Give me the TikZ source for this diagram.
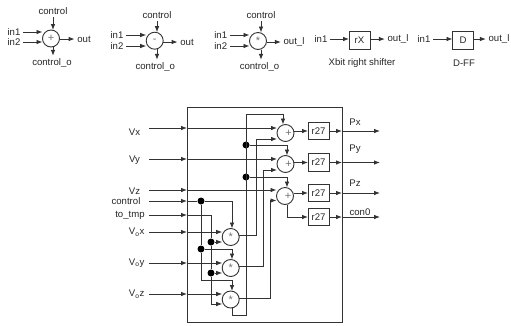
\documentclass[tikz,border=0pt]{standalone}
\usepackage{fontspec}
\setmainfont{Liberation Sans}
\usetikzlibrary{arrows.meta,calc}

\begin{document}
\begin{tikzpicture}[
    x=1pt,y=-1pt,
    every node/.style={text=black!85},
    lbl/.style={font=\fontsize{9.6}{10}\selectfont,inner sep=2.5pt},
    unit/.style={circle,draw=black!80,line width=0.9pt,minimum size=17pt,inner sep=0,outer sep=0,text=black!55,font=\fontsize{11}{11}\selectfont},
    box/.style={rectangle,draw=black!80,line width=0.9pt,minimum width=21pt,minimum height=17.5pt,inner sep=0,outer sep=0,font=\fontsize{9.6}{10}\selectfont},
    dot/.style={circle,fill=black,inner sep=0,minimum size=7pt},
    wire/.style={draw=black!80,line width=0.9pt},
    arrow/.style={wire,-{Latex[length=6pt,width=4.6pt]}}
]
\useasboundingbox (0,0) rectangle (511,325);

% Legend: adder
\node[unit] (adda) at (51,38.5) {+};
\node[lbl] (in1a) at (14,32) {in1};
\node[lbl] (in2a) at (14,42) {in2};
\node[lbl] (ctla) at (53,11) {control};
\node[lbl] (coa) at (52,63) {control\_o};
\node[lbl] (outa) at (84,39) {out};
\draw[arrow] (in1a.east) -- (in1a.east -| adda.west);
\draw[arrow] (in2a.east) -- (in2a.east -| adda.west);
\draw[arrow] (ctla.south) -- (ctla.south |- adda.north);
\draw[arrow] (ctla |- adda.south) -- (ctla |- coa.north);
\draw[arrow] (adda.east |- outa.west) -- (outa.west);

% Legend: subtractor
\node[unit] (addb) at (154.7,40.7) {-};
\node[lbl] (in1b) at (117,35) {in1};
\node[lbl] (in2b) at (117,46) {in2};
\node[lbl] (ctlb) at (157,15) {control};
\node[lbl] (cob) at (155.3,67) {control\_o};
\node[lbl] (outb) at (187,42) {out};
\draw[arrow] (in1b.east) -- (in1b.east -| addb.west);
\draw[arrow] (in2b.east) -- (in2b.east -| addb.west);
\draw[arrow] (ctlb.south) -- (ctlb.south |- addb.north);
\draw[arrow] (ctlb |- addb.south) -- (ctlb |- cob.north);
\draw[arrow] (addb.east |- outb.west) -- (outb.west);

% Legend: multiplier
\node[unit] (mulc) at (258,41) {*};
\node[lbl] (in1c) at (220.7,35) {in1};
\node[lbl] (in2c) at (220.7,46) {in2};
\node[lbl] (ctlc) at (261,15) {control};
\node[lbl] (coc) at (259.5,67) {control\_o};
\node[lbl] (outc) at (294,42) {out\_l};
\draw[arrow] (in1c.east) -- (in1c.east -| mulc.west);
\draw[arrow] (in2c.east) -- (in2c.east -| mulc.west);
\draw[arrow] (ctlc.south) -- (ctlc.south |- mulc.north);
\draw[arrow] (ctlc |- mulc.south) -- (ctlc |- coc.north);
\draw[arrow] (mulc.east |- outc.west) -- (outc.west);

% Legend: shifter and flip-flop
\node[box] (shift) at (359.5,40.5) {rX};
\node[lbl] (in1d) at (321,39) {in1};
\node[lbl] (outd) at (398,39) {out\_l};
\node[lbl] at (362,63) (shiftname) {Xbit right shifter};
\node[box] (dff) at (463,40.5) {D};
\node[lbl] (in1e) at (424,39) {in1};
\node[lbl] (oute) at (499,39) {out\_l};
\node[lbl] at (464,63) (dffname) {D-FF};
\draw[arrow] (in1d.east) -- (in1d.east -| shift.west);
\draw[arrow] (shift.east |- outd.west) -- (outd.west);
\draw[arrow] (in1e.east) -- (in1e.east -| dff.west);
\draw[arrow] (dff.east |- oute.west) -- (oute.west);

% Outer block
\node[draw=black!80,line width=0.9pt,minimum width=155pt,minimum height=215pt,inner sep=0,outer sep=0] (block) at (264.5,214.5) {};

% Adders
\node[unit] (add1) at (285.5,133) {\hspace{6pt}\raisebox{-2pt}{+}};
\node[unit] (add2) at (285.5,164) {\hspace{6pt}\raisebox{-2pt}{+}};
\node[unit] (add3) at (285,196) {\hspace{6pt}\raisebox{-2pt}{+}};

% Multipliers
\node[unit] (mul1) at (230.7,237) {\raisebox{-3pt}{*}};
\node[unit] (mul2) at (230.7,268) {\raisebox{-3pt}{*}};
\node[unit] (mul3) at (230.7,299.5) {\raisebox{-3pt}{*}};

% Shifters
\node[box] (r27a) at (318.5,131) {r27};
\node[box] (r27b) at (318.5,162.5) {r27};
\node[box] (r27c) at (318.5,193) {r27};
\node[box] (r27d) at (318.5,217) {r27};

% Input labels
\node[lbl] (vxl) at (134.5,132) {Vx};
\node[lbl] (vyl) at (134.5,160) {Vy};
\node[lbl] (vzl) at (134.5,191) {Vz};
\node[lbl] (ctll) at (126,201) {control};
\node[lbl] (tmpl) at (130,215) {to\_tmp};
\node[lbl] (voxl) at (136.7,232) {V\textsubscript{o}x};
\node[lbl] (voyl) at (136.7,263) {V\textsubscript{o}y};
\node[lbl] (vozl) at (136.7,294) {V\textsubscript{o}z};

% Output labels
\node[lbl] (pxl) at (355,122) {Px};
\node[lbl] (pyl) at (355,149) {Py};
\node[lbl] (pzl) at (355,183) {Pz};
\node[lbl] (conl) at (360,212) {con0};

% Input and output ends
\coordinate (vxin) at (149,128);   \coordinate (vxedge) at (187,128);
\coordinate (vyin) at (149,159);   \coordinate (vyedge) at (187,159);
\coordinate (vzin) at (149,190);   \coordinate (vzedge) at (187,190);
\coordinate (ctlin) at (149,201);  \coordinate (ctledge) at (187,201);
\coordinate (tmpin) at (149,215);  \coordinate (tmpedge) at (187,215);
\coordinate (voxin) at (149,232);  \coordinate (voxedge) at (187,232);
\coordinate (voyin) at (149,263);  \coordinate (voyedge) at (187,263);
\coordinate (vozin) at (149,294);  \coordinate (vozedge) at (187,294);
\coordinate (pxedge) at (342,131);   \coordinate (pxout) at (380,131);
\coordinate (pyedge) at (342,162.5); \coordinate (pyout) at (380,162.5);
\coordinate (pzedge) at (342,193);   \coordinate (pzout) at (380,193);
\coordinate (conedge) at (342,217);  \coordinate (conout) at (380,217);

% Junctions
\node[dot] (dota) at (246,145) {};
\node[dot] (dotb) at (246,177) {};
\node[dot] (dotc) at (201,201) {};
\node[dot] (dotd) at (201,249) {};
\node[dot] (dote) at (211,242) {};
\node[dot] (dotf) at (211,273) {};

% Routing points
\coordinate (busa) at (232,315);
\coordinate (busb) at (246,315);
\coordinate (busc) at (246,114);
\coordinate (busd) at (283,114);
\coordinate (tapa) at (287,145);
\coordinate (tapb) at (287,177);
\coordinate (ctla1) at (232,201);
\coordinate (ctlb1) at (232,249);
\coordinate (ctlc0) at (201,280);
\coordinate (ctlc1) at (232,280);
\coordinate (tmpa) at (211,215);
\coordinate (tmpb) at (211,304);
\coordinate (moa) at (256,235);  \coordinate (moa1) at (256,139);
\coordinate (mob) at (263,266);  \coordinate (mob1) at (263,170);
\coordinate (moc) at (270,298);  \coordinate (moc1) at (270,200.5);
\coordinate (addout) at (287,217);

% Inputs
\draw[arrow] (vxin) -- (vxedge);
\draw[arrow] (vyin) -- (vyedge);
\draw[arrow] (vzin) -- (vzedge);
\draw[arrow] (ctlin) -- (ctledge);
\draw[arrow] (tmpin) -- (tmpedge);
\draw[arrow] (voxin) -- (voxedge);
\draw[arrow] (voyin) -- (voyedge);
\draw[arrow] (vozin) -- (vozedge);
\draw[arrow] (vxedge) -- (vxedge -| add1.west);
\draw[arrow] (vyedge) -- (vyedge -| add2.west);
\draw[arrow] (vzedge) -- (vzedge -| add3.west);
\draw[arrow] (voxedge) -- (voxedge -| mul1.west);
\draw[arrow] (voyedge) -- (voyedge -| mul2.west);
\draw[arrow] (vozedge) -- (vozedge -| mul3.west);

% Control chain
\draw[wire] (ctledge) -- (dotc);
\draw[arrow] (dotc) -- (ctla1) -- (ctla1 |- mul1.north);
\draw[wire] (dotc) -- (dotd);
\draw[arrow] (dotd) -- (ctlb1) -- (ctlb1 |- mul2.north);
\draw[arrow] (dotd) -- (ctlc0) -- (ctlc1) -- (ctlc1 |- mul3.north);
\draw[arrow] (busa |- mul3.south) -- (busa) -- (busb) -- (busc) -- (busd) -- (busd |- add1.north);
\draw[arrow] (dota) -- (tapa) -- (tapa |- add2.north);
\draw[arrow] (dotb) -- (tapb) -- (tapb |- add3.north);

% to_tmp
\draw[wire] (tmpedge) -- (tmpa) -- (dote);
\draw[wire] (dote) -- (dotf);
\draw[arrow] (dote) -- (dote -| mul1.west);
\draw[arrow] (dotf) -- (dotf -| mul2.west);
\draw[arrow] (dotf) -- (tmpb) -- (tmpb -| mul3.west);

% Products into adders
\draw[arrow] (moa -| mul1.east) -- (moa) -- (moa1) -- (moa1 -| add1.west);
\draw[arrow] (mob -| mul2.east) -- (mob) -- (mob1) -- (mob1 -| add2.west);
\draw[arrow] (moc -| mul3.east) -- (moc) -- (moc1) -- (moc1 -| add3.west);

% Adders into shifters
\draw[arrow] (r27a.west -| add1.east) -- (r27a.west);
\draw[arrow] (r27b.west -| add2.east) -- (r27b.west);
\draw[arrow] (r27c.west -| add3.east) -- (r27c.west);
\draw[arrow] (addout |- add3.south) -- (addout) -- (r27d.west);

% Outputs
\draw[arrow] (r27a.east) -- (pxedge);
\draw[arrow] (r27b.east) -- (pyedge);
\draw[arrow] (r27c.east) -- (pzedge);
\draw[arrow] (r27d.east) -- (conedge);
\draw[arrow] (pxedge) -- (pxout);
\draw[arrow] (pyedge) -- (pyout);
\draw[arrow] (pzedge) -- (pzout);
\draw[arrow] (conedge) -- (conout);

\end{tikzpicture}
\end{document}
